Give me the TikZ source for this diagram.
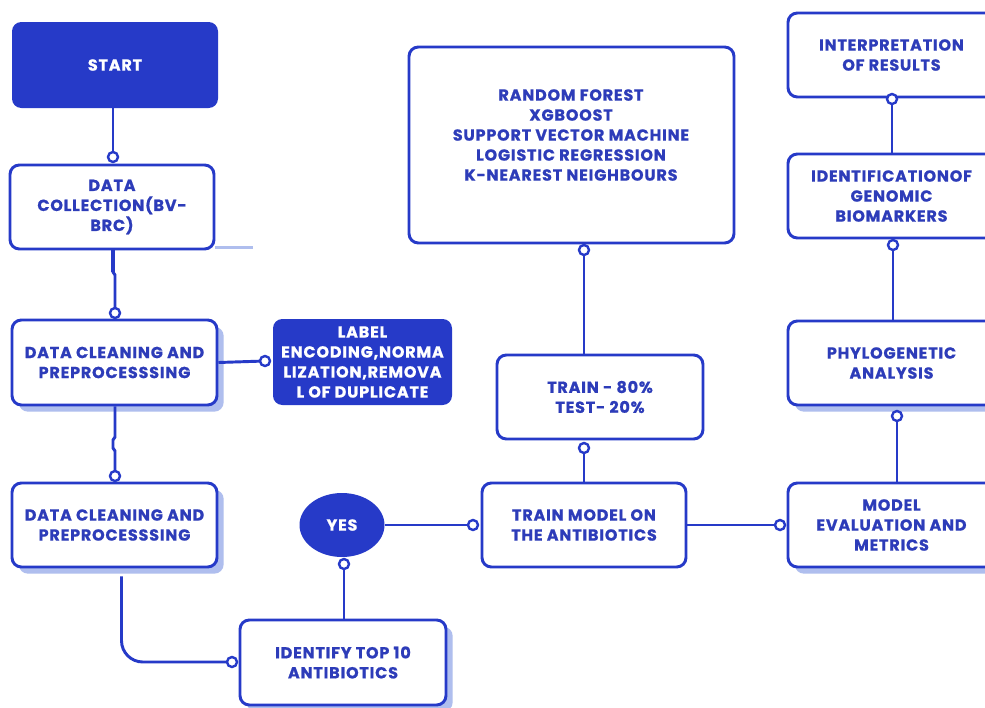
\documentclass[tikz,border=0pt]{standalone}
\usepackage{fontspec}
\setmainfont{Poppins}[LetterSpace=5, BoldFeatures={FakeBold=0.8}]
\usetikzlibrary{shapes.geometric,shadows}
\definecolor{myblue}{RGB}{38,58,200}
\definecolor{txtblue}{RGB}{45,60,185}
\definecolor{shblue}{RGB}{175,190,238}
\tikzset{
  lbl/.style={font=\bfseries\fontsize{12}{15}\selectfont, align=center},
  wbox/.style={lbl, draw=myblue, line width=2.2pt, rounded corners=7pt, fill=white, text=txtblue, inner sep=0pt},
  bluebox/.style={lbl, fill=myblue, rounded corners=7pt, text=white, inner sep=0pt},
  shad/.style={drop shadow={shadow xshift=5pt, shadow yshift=-5pt, fill=shblue, opacity=1}},
  conn/.style={draw=myblue, line width=2.2pt},
  dot/.style={circle, draw=myblue, line width=1.8pt, fill=white, minimum size=7.5pt, inner sep=0pt},
}
\begin{document}
\begin{tikzpicture}[x=0.75pt,y=-0.75pt]
\useasboundingbox (0,0) rectangle (985,707);
\clip (0,0) rectangle (985,707);
\fill[white] (0,0) rectangle (985,707);

% boxes
\node[bluebox, minimum width=154.5pt, minimum height=64.5pt] (start) at (115,65) {START};
\node[wbox, minimum width=153pt, minimum height=63pt] (coll) at (112,207) {DATA\\COLLECTION(BV-\\BRC)};
\node[wbox, shad, minimum width=153.75pt, minimum height=63.75pt] (clean1) at (114.5,362.5) {DATA CLEANING AND\\PREPROCESSSING};
\node[bluebox, minimum width=134.25pt, minimum height=64.5pt] (label) at (362.5,362) {LABEL\\ENCODING,NORMA\\LIZATION,REMOVA\\L OF DUPLICATE};
\node[wbox, shad, minimum width=153.75pt, minimum height=63pt] (clean2) at (114.5,525) {DATA CLEANING AND\\PREPROCESSSING};
\node[wbox, shad, minimum width=154.5pt, minimum height=63.75pt] (top10) at (343,662.5) {IDENTIFY TOP 10\\ANTIBIOTICS};
\node[ellipse, lbl, fill=myblue, text=white, minimum width=63.75pt, minimum height=48pt, inner sep=0pt] (yes) at (342,525) {YES};
\node[wbox, minimum width=153pt, minimum height=63pt] (train) at (584,525) {TRAIN MODEL ON\\THE ANTIBIOTICS};
\node[wbox, minimum width=154.5pt, minimum height=63pt] (tt) at (600,397) {TRAIN - 80\%\\TEST- 20\%};
\node[wbox, minimum width=243.75pt, minimum height=147pt] (rf) at (571.5,145) {};
\node[lbl, text=txtblue] (rftext) at (571,135) {RANDOM FOREST\\XGBOOST\\SUPPORT VECTOR MACHINE\\LOGISTIC REGRESSION\\K-NEAREST NEIGHBOURS};
\node[wbox, shad, minimum width=155.25pt, minimum height=63pt] (eval) at (891.5,525) {MODEL\\EVALUATION AND\\METRICS};
\node[wbox, shad, minimum width=155.25pt, minimum height=63pt] (phylo) at (891.5,363) {PHYLOGENETIC\\ANALYSIS};
\node[wbox, minimum width=155.25pt, minimum height=63pt] (bio) at (891.5,196) {IDENTIFICATIONOF\\GENOMIC\\BIOMARKERS};
\node[wbox, minimum width=155.25pt, minimum height=63pt] (interp) at (891.5,55) {INTERPRETATION\\OF RESULTS};

% light stub at right of data collection
\draw[shblue, line width=2.5pt] ([yshift=2pt]coll.south east) -- ++(38,0);

% circle marker positions
\coordinate (d1) at (113,157);
\coordinate (d2) at (115,313);
\coordinate (d3) at (265,361);
\coordinate (d4) at (115,476);
\coordinate (d5) at (232,662);
\coordinate (d6) at (344,564);
\coordinate (d7) at (473,525);
\coordinate (d8) at (584,448);
\coordinate (d9) at (584,250);
\coordinate (d10) at (780,525);
\coordinate (d11) at (897,416);
\coordinate (d12) at (893,245);
\coordinate (d13) at (892,99);

% connectors
\draw[conn] (d1 |- start.south) -- (d1);
\draw[conn, line width=3.4pt] (113,249) -- (113,272);
\draw[conn] (113,249) -- (113,272) -- (115,275) -- (d2);
\draw[conn] (clean1.east) -- (d3);
\draw[conn] (d4 |- clean1.south) -- (115,437) -- (113,440) -- (113,448) -- (115,451) -- (d4);
\draw[conn, rounded corners=16pt] (clean2.south) ++(7,8) -- (121.5,662) -- (d5);
\draw[conn] (d6 |- top10.north) -- (d6);
\draw[conn] (yes.east) -- (d7);
\draw[conn] (d8 |- train.north) -- (d8);
\draw[conn] (d9 |- tt.north) -- (d9);
\draw[conn] (train.east) -- (d10);
\draw[conn] (d11 |- eval.north) -- (d11);
\draw[conn] (d12 |- phylo.north) -- (d12);
\draw[conn] (d13 |- bio.north) -- (d13);

% dots on top
\foreach \n in {d1,d2,d3,d4,d5,d6,d7,d8,d9,d10,d11,d12,d13}{
  \node[dot] (m\n) at (\n) {};
}
\end{tikzpicture}
\end{document}
